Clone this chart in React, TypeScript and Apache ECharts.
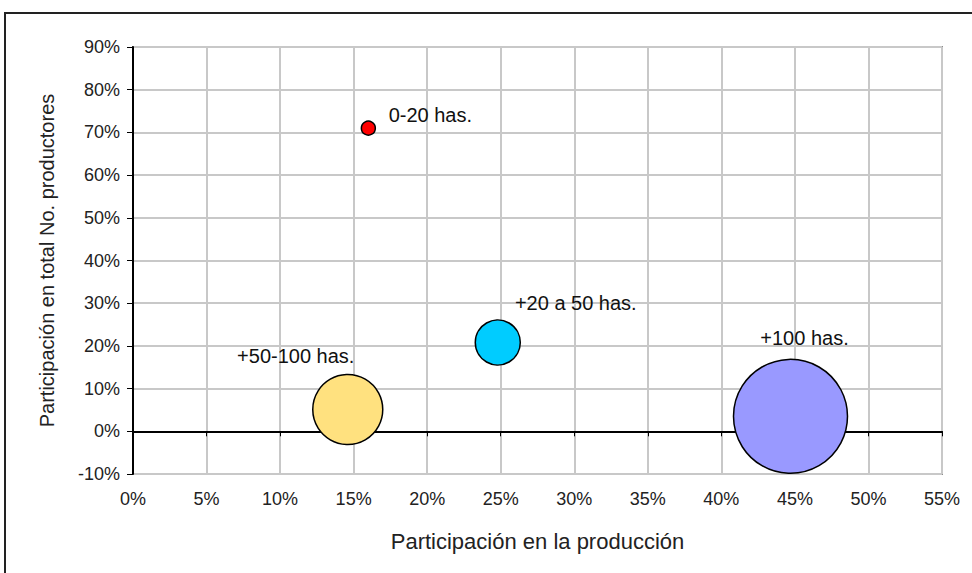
import React, { useEffect, useRef } from "react";
import * as echarts from "echarts";

const categories = ["0-20 has.", "+20 a 50 has.", "+50-100 has.", "+100 has."];
const produccion = [16.0, 24.8, 14.6, 44.7];
const productores = [71.0, 20.8, 5.1, 3.5];
const bubbleSizes = [1.5, 15.6, 37.7, 100];
const colors = ["#FF0000", "#00CCFF", "#FFE17F", "#9999FF"];
const labelOffsets = [[62, -13], [78, -39], [-52, -54], [14, -78]];

const xTitle = "Participación en la producción";
const yTitle = "Participación en total No. productores";

export default function App() {
  const ref = useRef<HTMLDivElement>(null);
  useEffect(() => {
    if (!ref.current) return;
    const chart = echarts.init(ref.current, null, { renderer: "svg" });
    const maxSize = Math.max(...bubbleSizes);
    const maxDiam = 114;
    const font = "'Liberation Sans', Arial, sans-serif";
    const data = categories.map((c, i) => ({
      name: c,
      value: [produccion[i], productores[i], bubbleSizes[i]],
      itemStyle: { color: colors[i], borderColor: "#000", borderWidth: 1.5, opacity: 1 },
      label: {
        show: true,
        position: "inside",
        offset: labelOffsets[i],
        formatter: c,
        color: "#111",
        fontSize: 20,
        fontFamily: font,
      },
    }));
    chart.setOption({
      animation: false,
      backgroundColor: "#fff",
      graphic: [
        {
          type: "rect",
          shape: { x: 5, y: 13, width: 1100, height: 700 },
          style: { fill: "none", stroke: "#222", lineWidth: 2 },
          silent: true,
        },
      ],
      grid: {
        left: 133,
        right: 30,
        top: 47,
        bottom: 99,
        show: true,
        borderColor: "#8c8c8c",
        borderWidth: 2,
        backgroundColor: "transparent",
      },
      xAxis: [
        {
          type: "value",
          min: 0,
          max: 55,
          interval: 5,
          position: "bottom",
          name: xTitle,
          nameLocation: "middle",
          nameGap: 56,
          nameTextStyle: { fontSize: 22, color: "#222", fontFamily: font },
          axisLine: { show: false, onZero: false },
          axisTick: { show: false },
          axisLabel: {
            formatter: "{value}%",
            fontSize: 18,
            color: "#222",
            fontFamily: font,
            margin: 16,
          },
          splitLine: { show: true, lineStyle: { color: "#c8c8c8", width: 2 } },
        },
        {
          type: "value",
          min: 0,
          max: 55,
          interval: 5,
          position: "bottom",
          axisLine: { show: true, onZero: true, lineStyle: { color: "#000", width: 2 } },
          axisTick: { show: true, inside: false, length: 5, lineStyle: { color: "#000" } },
          axisLabel: { show: false },
          splitLine: { show: false },
        },
      ],
      yAxis: {
        type: "value",
        min: -10,
        max: 90,
        interval: 10,
        name: yTitle,
        nameLocation: "middle",
        nameGap: 76,
        nameTextStyle: { fontSize: 20, color: "#222", fontFamily: font },
        axisLine: { show: true, onZero: false, lineStyle: { color: "#000", width: 2 } },
        axisTick: { show: true, length: 6, lineStyle: { color: "#000" } },
        axisLabel: {
          formatter: "{value}%",
          fontSize: 18,
          color: "#222",
          fontFamily: font,
          margin: 13,
        },
        splitLine: { show: true, lineStyle: { color: "#c8c8c8", width: 2 } },
      },
      series: [
        {
          type: "scatter",
          xAxisIndex: 0,
          symbol: "circle",
          symbolSize: (v: number[]) => maxDiam * Math.sqrt(v[2] / maxSize),
          itemStyle: { opacity: 1 },
          data,
        },
      ],
    });
    return () => chart.dispose();
  }, []);
  return (
    <div
      ref={ref}
      style={{ position: "fixed", left: 0, top: 0, width: 972, height: 573 }}
    />
  );
}
